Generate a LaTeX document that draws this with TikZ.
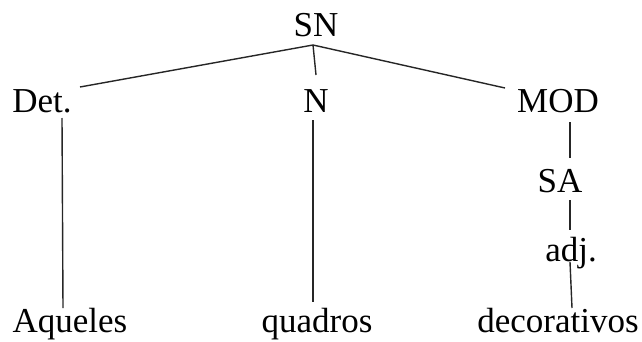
\documentclass[tikz,border=0pt]{standalone}
\usepackage{fontspec}
\setmainfont{Liberation Serif}
\begin{document}
\begin{tikzpicture}[x=1pt,y=1pt,
  lbl/.style={inner sep=0pt, anchor=base, font=\fontsize{35}{40}\selectfont},
  edge/.style={draw=black!85, line width=1.4pt}]
\useasboundingbox (0,0) rectangle (642,341);
\node[lbl] (sn) at (316,305) {SN};
\node[lbl] (det) at (42,229) {Det.};
\node[lbl] (n) at (316,229) {N};
\node[lbl] (mod) at (558,229) {MOD};
\node[lbl] (sa) at (560,149) {SA};
\node[lbl] (adj) at (571,80) {adj.};
\node[lbl] (aq) at (70,8.5) {Aqueles};
\node[lbl] (qu) at (317,8.5) {quadros};
\node[lbl] (de) at (558,8.5) {decorativos};
% endpoints
\coordinate (snb) at (313,296);
\coordinate (dett) at (80,254);
\coordinate (nt) at (316,266);
\coordinate (modt) at (505,253);
\coordinate (detb) at (62,223);
\coordinate (aqt) at (63,33);
\coordinate (nb) at (313,221);
\coordinate (qut) at (313,39);
\coordinate (modb) at (570,219);
\coordinate (sat) at (570,183);
\coordinate (sab) at (570,141);
\coordinate (adjt) at (570,111);
\coordinate (adjb) at (570,79);
\coordinate (det2) at (572,33);
\draw[edge] (snb) -- (dett);
\draw[edge] (snb) -- (nt);
\draw[edge] (snb) -- (modt);
\draw[edge] (detb) -- (aqt);
\draw[edge] (nb) -- (qut);
\draw[edge] (modb) -- (sat);
\draw[edge] (sab) -- (adjt);
\draw[edge] (adjb) -- (det2);
\end{tikzpicture}
\end{document}
